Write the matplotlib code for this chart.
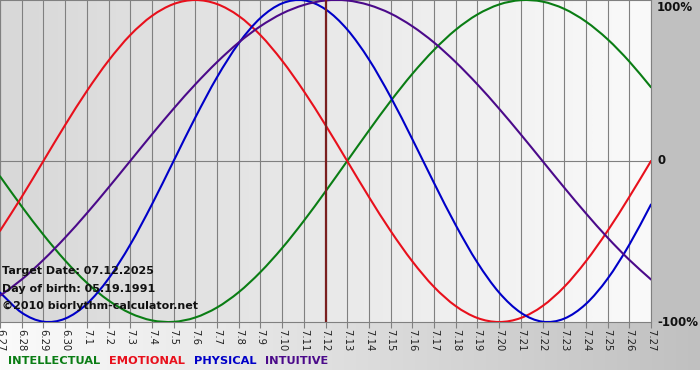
import numpy as np
import matplotlib
matplotlib.use('Agg')
import matplotlib.pyplot as plt
from matplotlib.colors import to_rgb
from matplotlib.path import Path
from matplotlib.patches import PathPatch

# ---- data ----
day_labels = ['6.27', '6.28', '6.29', '6.30', '7.1', '7.2', '7.3', '7.4', '7.5', '7.6',
              '7.7', '7.8', '7.9', '7.10', '7.11', '7.12', '7.13', '7.14', '7.15', '7.16',
              '7.17', '7.18', '7.19', '7.20', '7.21', '7.22', '7.23', '7.24', '7.25', '7.26', '7.27']

intellectual = [-0.095, -0.282, -0.458, -0.618, -0.756, -0.866, -0.945, -0.990, -0.999, -0.972,
                -0.910, -0.815, -0.690, -0.541, -0.372, -0.189, 0.000, 0.189, 0.372, 0.541,
                0.690, 0.815, 0.910, 0.972, 0.999, 0.990, 0.945, 0.866, 0.756, 0.618, 0.458]

emotional = [-0.434, -0.223, 0.000, 0.223, 0.434, 0.623, 0.782, 0.901, 0.975, 1.000,
             0.975, 0.901, 0.782, 0.623, 0.434, 0.223, 0.000, -0.223, -0.434, -0.623,
             -0.782, -0.901, -0.975, -1.000, -0.975, -0.901, -0.782, -0.623, -0.434, -0.223, 0.000]

physical = [-0.817, -0.942, -0.998, -0.979, -0.888, -0.731, -0.520, -0.270, 0.000, 0.270,
            0.520, 0.731, 0.888, 0.979, 0.998, 0.942, 0.817, 0.631, 0.398, 0.136,
            -0.136, -0.398, -0.631, -0.817, -0.942, -0.998, -0.979, -0.888, -0.731, -0.520, -0.270]

intuitive = [-0.837, -0.736, -0.614, -0.476, -0.325, -0.165, 0.000, 0.165, 0.325, 0.476,
             0.614, 0.736, 0.837, 0.916, 0.969, 0.997, 0.997, 0.969, 0.916, 0.837,
             0.736, 0.614, 0.476, 0.325, 0.165, 0.000, -0.165, -0.325, -0.476, -0.614, -0.736]

target_label = '7.12'
y_labels = ['100%', '0', '-100%']
y_label_values = [1, 0, -1]
info_lines = ['Target Date: 07.12.2025', 'Day of birth: 05.19.1991',
              '\u00a92010 biorlythm-calculator.net']
series_names = ['INTELLECTUAL', 'EMOTIONAL', 'PHYSICAL', 'INTUITIVE']

# ---- styling ----
C_INT = '#0a7d14'
C_EMO = '#e8101c'
C_PHY = '#0000c8'
C_ITU = '#4b0a8a'
C_MARK = '#7a1f1f'
GRID = '#808080'

W, H = 700, 380
fig = plt.figure(figsize=(W / 100, H / 100), dpi=100)

# figure background
bg = fig.add_axes([0, 0, 1, 1], zorder=0)
img = np.ones((H, W, 3))
gray = np.array(to_rgb('#c0c0c0'))
img[:322, 651:, :] = gray
t = np.linspace(0, 1, W)[:, None]
light = np.array(to_rgb('#fbfbfb'))
grad = light[None, :] * (1 - t) + gray[None, :] * t
img[322:370, :, :] = grad[None, :, :]
bg.imshow(img, extent=(0, W, H, 0), aspect='auto', interpolation='nearest')
bg.set_xlim(0, W)
bg.set_ylim(H, 0)
bg.axis('off')

ax = fig.add_axes([0, (H - 322) / H, 651 / W, 322 / H], zorder=1)
x = np.arange(len(day_labels))
ax.set_xlim(0, len(day_labels) - 1)
ax.set_ylim(-1, 1)

# plot-area gradient
pg = np.linspace(0, 1, 256)[None, :, None]
c0 = np.array(to_rgb('#d8d8d8'))
c1 = np.array(to_rgb('#fafafa'))
pimg = c0[None, None, :] * (1 - pg) + c1[None, None, :] * pg
ax.imshow(pimg, extent=(0, len(day_labels) - 1, -1, 1), aspect='auto', zorder=0,
          interpolation='bilinear')

ax.set_xticks(x)
ax.set_xticklabels(day_labels, rotation=270, fontsize=7.2, color='#222222')
ax.tick_params(axis='x', length=4, color=GRID, pad=1, width=0.8)
ax.set_yticks([])
ax.grid(axis='x', color=GRID, lw=0.8, zorder=1)
ax.set_axisbelow(True)
ax.axhline(0, color=GRID, lw=0.8, zorder=1)
for s in ax.spines.values():
    s.set_color(GRID)
    s.set_linewidth(0.8)


def smooth_line(ax, xs, ys, color):
    """Draw a smooth (Catmull-Rom as cubic Bezier) line through the data points."""
    xs = np.asarray(xs, float)
    ys = np.asarray(ys, float)
    pts = np.column_stack([xs, ys])
    n = len(pts)
    verts = [pts[0]]
    codes = [Path.MOVETO]
    for i in range(n - 1):
        p0 = pts[i - 1] if i > 0 else 2 * pts[0] - pts[1]
        p1 = pts[i]
        p2 = pts[i + 1]
        p3 = pts[i + 2] if i + 2 < n else 2 * pts[-1] - pts[-2]
        verts += [p1 + (p2 - p0) / 6.0, p2 - (p3 - p1) / 6.0, p2]
        codes += [Path.CURVE4] * 3
    patch = PathPatch(Path(verts, codes), facecolor='none', edgecolor=color,
                      lw=1.5, zorder=3, capstyle='round', joinstyle='round')
    ax.add_patch(patch)


smooth_line(ax, x, intellectual, C_INT)
smooth_line(ax, x, emotional, C_EMO)
smooth_line(ax, x, physical, C_PHY)
smooth_line(ax, x, intuitive, C_ITU)
ax.axvline(day_labels.index(target_label), color=C_MARK, lw=1.6, zorder=4)

# right-side labels
for lab, val in zip(y_labels, y_label_values):
    va = 'top' if val == 1 else 'center'
    ax.annotate(lab, xy=(1, val), xycoords=('axes fraction', 'data'),
                xytext=(6, -1 if val == 1 else 0), textcoords='offset pixels',
                ha='left', va=va, fontsize=8.5, fontweight='bold', color='#111111',
                annotation_clip=False)

# info text
for i, line in enumerate(info_lines):
    ypix = 271 + 17.5 * i
    fig.text(2 / W, 1 - ypix / H, line, fontsize=8, fontweight='bold',
             color='#111111', ha='left', va='center', zorder=5)

# legend text
colors = [C_INT, C_EMO, C_PHY, C_ITU]
prev = fig.text(8 / W, 1 - 361 / H, series_names[0], fontsize=8.2, fontweight='bold',
                color=colors[0], ha='left', va='center')
for name, col in zip(series_names[1:], colors[1:]):
    prev = fig.add_artist(matplotlib.text.Annotation(
        name, xy=(1, 0.5), xycoords=prev, xytext=(9, 0), textcoords='offset pixels',
        ha='left', va='center', fontsize=8.2, fontweight='bold', color=col))

fig.savefig('out.png', dpi=100)
